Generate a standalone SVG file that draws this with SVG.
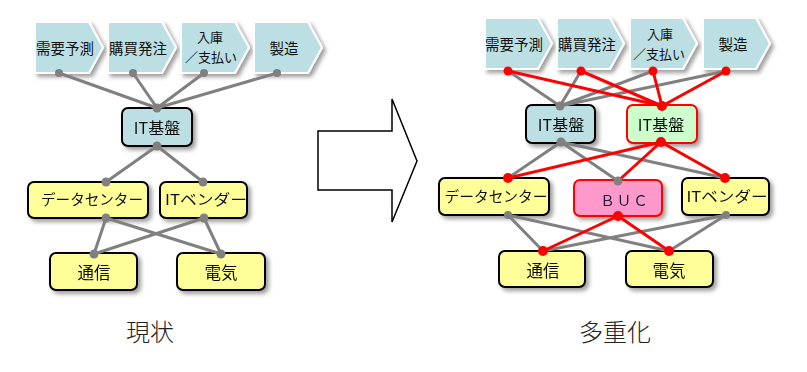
<svg xmlns="http://www.w3.org/2000/svg" width="807" height="372" viewBox="0 0 807 372">
<defs>
<filter id="sh" x="-20%" y="-20%" width="150%" height="160%">
<feDropShadow dx="3" dy="3" stdDeviation="2.2" flood-color="#000" flood-opacity="0.38"/>
</filter>
<style>
text{font-family:"Noto Sans CJK JP","Liberation Sans",sans-serif;fill:#111;dominant-baseline:central;text-anchor:middle}
.chev{fill:#bcdfe3;stroke:#fff;stroke-width:2;filter:url(#sh)}
.blue{fill:#bcdfe3;stroke:#000;stroke-width:2}
.green{fill:#ccffcc;stroke:#ff0000;stroke-width:2}
.yel{fill:#ffff99;stroke:#000;stroke-width:2}
.pink{fill:#ff99cc;stroke:#ff0000;stroke-width:2}
.box{filter:url(#sh)}
.g{stroke:#808080;stroke-width:3;fill:none}
.r{stroke:#ff0000;stroke-width:3;fill:none}
.gd{fill:#808080}
.rd{fill:#ff0000}
.t15{font-size:14.5px}
.t13{font-size:13px}
.t16{font-size:16px}
.t17{font-size:16.5px}
.cap{font-size:24px;fill:#222;font-weight:300}
</style>
</defs>
<rect width="807" height="372" fill="#fff"/>

<!-- Left: current state -->
<g id="L-chev1"><polygon class="chev" points="35,22 89,22 103,47.5 89,73 35,73"/><text class="t15" x="65" y="47">需要予測</text></g>
<g id="L-chev2"><polygon class="chev" points="108,22 162,22 176,47.5 162,73 108,73"/><text class="t15" x="138" y="47">購買発注</text></g>
<g id="L-chev3"><polygon class="chev" points="181,22 235,22 249,47.5 235,73 181,73"/><text class="t13" x="210" y="36">入庫</text><text class="t13" x="211" y="56">／支払い</text></g>
<g id="L-chev4"><polygon class="chev" points="254,22 308,22 322,47.5 308,73 254,73"/><text class="t15" x="284" y="47">製造</text></g>
<g id="L-it" class="box"><rect class="blue" x="122" y="108" width="70" height="38" rx="6"/><text class="t16" x="157" y="127">IT基盤</text></g>
<g id="L-dc" class="box"><rect class="yel" x="28" y="182" width="120" height="36" rx="6"/><text class="t15" x="92" y="198" textLength="102" lengthAdjust="spacingAndGlyphs">データセンター</text></g>
<g id="L-itv" class="box"><rect class="yel" x="160" y="182" width="87" height="36" rx="6"/><text class="t15" x="206" y="198" textLength="82" lengthAdjust="spacingAndGlyphs">ITベンダー</text></g>
<g id="L-tsu" class="box"><rect class="yel" x="50" y="253" width="87" height="37" rx="6"/><text class="t17" x="94" y="272">通信</text></g>
<g id="L-den" class="box"><rect class="yel" x="177" y="253" width="88" height="37" rx="6"/><text class="t17" x="221" y="272">電気</text></g>

<g id="L-connectors">
<path class="g" d="M59,73L157,108M133,73L157,108M204,73L157,108M277,73L157,108M157,146L106,182M157,146L203,182M106,218L94,254M106,218L221,254M204,218L94,254M204,218L221,254"/>
<g class="gd">
<circle cx="59" cy="73" r="4"/><circle cx="133" cy="73" r="4"/><circle cx="204" cy="73" r="4"/><circle cx="277" cy="73" r="4"/>
<circle cx="157" cy="108" r="4.5"/><circle cx="157" cy="146" r="4.5"/>
<circle cx="106" cy="182" r="4.5"/><circle cx="203" cy="182" r="4.5"/><circle cx="106" cy="218" r="4.5"/><circle cx="204" cy="218" r="4.5"/>
<circle cx="94" cy="254" r="4.5"/><circle cx="221" cy="254" r="4.5"/>
</g>
</g>

<!-- Arrow -->
<g id="arrow"><polygon points="318,131 392,131 392,99 417,161 392,222 392,190 318,190" fill="#fff" stroke="#000" stroke-width="1.5"/></g>

<!-- Right: redundant -->
<g id="R-chev1"><polygon class="chev" points="485,18 538,18 552,43.5 538,69 485,69"/><text class="t15" x="514" y="43">需要予測</text></g>
<g id="R-chev2"><polygon class="chev" points="557,18 610,18 624,43.5 610,69 557,69"/><text class="t15" x="587" y="43">購買発注</text></g>
<g id="R-chev3"><polygon class="chev" points="630,18 683,18 697,43.5 683,69 630,69"/><text class="t13" x="660" y="33">入庫</text><text class="t13" x="659" y="53">／支払い</text></g>
<g id="R-chev4"><polygon class="chev" points="703,18 756,18 770,43.5 756,69 703,69"/><text class="t15" x="733" y="43">製造</text></g>
<g id="R-it1" class="box"><rect class="blue" x="526" y="105" width="69" height="38" rx="6"/><text class="t16" x="561" y="124">IT基盤</text></g>
<g id="R-it2" class="box"><rect class="green" x="627" y="105" width="70" height="38" rx="6"/><text class="t16" x="661" y="124">IT基盤</text></g>
<g id="R-dc" class="box"><rect class="yel" x="439" y="178" width="110" height="37" rx="6"/><text class="t15" x="496" y="195" textLength="103" lengthAdjust="spacingAndGlyphs">データセンター</text></g>
<g id="R-buc" class="box"><rect class="pink" x="574" y="180" width="88" height="36" rx="6"/><text class="t15" x="625" y="199" style="fill:#1a1a40" letter-spacing="2">ＢＵＣ</text></g>
<g id="R-itv" class="box"><rect class="yel" x="682" y="178" width="87" height="37" rx="6"/><text class="t15" x="727" y="195" textLength="81" lengthAdjust="spacingAndGlyphs">ITベンダー</text></g>
<g id="R-tsu" class="box"><rect class="yel" x="499" y="251" width="86" height="36" rx="6"/><text class="t17" x="543" y="270">通信</text></g>
<g id="R-den" class="box"><rect class="yel" x="626" y="251" width="87" height="36" rx="6"/><text class="t17" x="669" y="270">電気</text></g>

<g id="R-connectors">
<path class="g" d="M508,71L560,106M581,71L560,106M653,71L560,106M726,71L560,106M561,142L508,178M561,142L618,181M561,142L725,178M508,215L543,251M508,215L669,251M726,215L543,251M726,215L669,251"/>
<path class="r" d="M508,71L662,106M581,71L662,106M653,71L662,106M726,71L662,106M661,142L508,178M661,142L618,181M661,142L725,178M618,216L543,251M618,216L669,251"/>
<g class="gd">
<circle cx="560" cy="106" r="4.5"/><circle cx="561" cy="142" r="4.5"/><circle cx="618" cy="181" r="4.5"/>
<circle cx="508" cy="215" r="4"/><circle cx="726" cy="215" r="4"/>
</g>
<g class="rd">
<circle cx="508" cy="71" r="4.5"/><circle cx="581" cy="71" r="4.5"/><circle cx="653" cy="71" r="4.5"/><circle cx="726" cy="71" r="4.5"/>
<circle cx="662" cy="106" r="5"/><circle cx="661" cy="142" r="5"/>
<circle cx="508" cy="178" r="5"/><circle cx="725" cy="178" r="5"/><circle cx="618" cy="216" r="5"/>
<circle cx="543" cy="251" r="5"/><circle cx="669" cy="251" r="5"/>
</g>
</g>

<g id="captions">
<text class="cap" x="150" y="330">現状</text>
<text class="cap" x="615" y="330">多重化</text>
</g>
</svg>
